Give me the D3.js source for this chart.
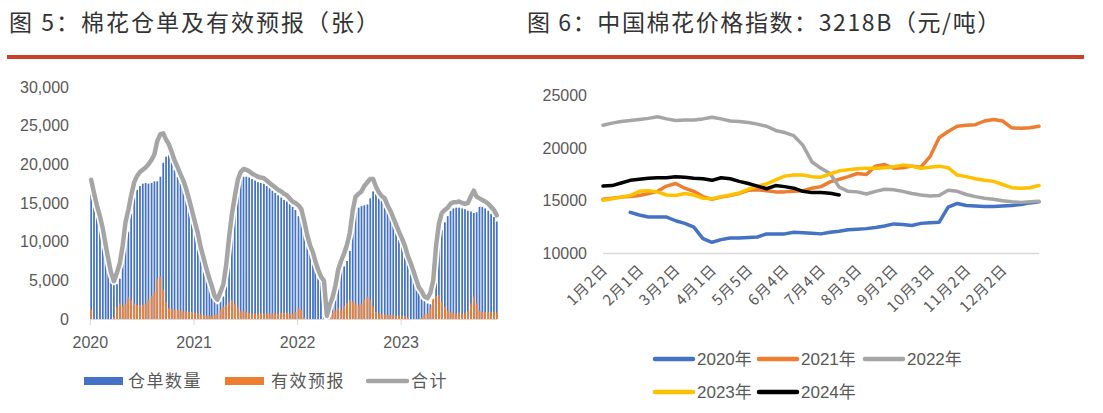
<!DOCTYPE html>
<html><head><meta charset="utf-8">
<script src="https://cdn.jsdelivr.net/npm/d3@7/dist/d3.min.js"></script>
<style>
body{margin:0;background:#fff}
svg text{font-family:"Liberation Sans",Arial,"Noto Sans CJK SC",sans-serif;fill:#595959}
.cjk{font-family:"Noto Sans CJK SC",sans-serif}
</style>
</head><body>
<svg id="c" width="1103" height="413"></svg>
<script>
// ---------- Figure 5 data: every ~10 days (1st, 11th, 21st) from 2020-01-01 to 2023-12-01 ----------
const leftYTicks = [0, 5000, 10000, 15000, 20000, 25000, 30000];
const leftYearTicks = ["2020", "2021", "2022", "2023"];
const warehouse = [
 16800,16300,14700,13300,11700,9600,7800,6000,4700,4500,5200,7800,10500,11300,13600,15700,16700,17200,
 17500,17600,17500,17600,17800,17800,18400,20200,21000,21200,20300,19300,18400,17600,16900,15800,14600,13200,
 11700,10400,8700,7300,6000,4800,3900,2500,1900,2300,2900,5200,8300,11100,13800,16500,18000,18400,
 18400,18300,18100,17900,17700,17600,17500,17200,16900,16600,16300,16000,15700,15400,15200,14900,14500,14100,
 13300,13000,12500,10800,9500,8600,7500,6400,5500,4900,400,1200,2000,3200,5000,6400,6800,7500,
 8800,11700,13800,14400,14600,14700,14800,15600,16500,16200,15700,15300,15000,14200,13500,12600,11800,10900,
 10000,9100,8000,7200,6100,5000,4100,3400,2300,2000,1900,2400,6500,9200,11500,12500,13300,14000,
 14300,14400,14400,14300,14200,14000,13900,13700,13800,14500,14500,14300,14000,13600,13200,12600
];
const forecast = [
 1200,0,0,0,0,0,0,0,200,1500,2000,1700,2000,2800,2400,2000,1800,1800,
 1800,2000,2500,3000,3500,5200,5500,3800,2200,1400,1300,1200,1200,1100,1000,1000,900,900,
 800,700,600,500,400,400,400,500,600,1200,1600,1800,2200,2400,2000,1500,1000,1000,
 900,800,700,700,700,700,700,700,700,700,700,700,800,800,800,700,700,900,
 1400,1200,200,0,0,0,0,0,0,0,0,600,800,1100,1400,1200,1700,2100,
 2400,2300,2000,1800,1900,2500,2900,2500,1600,900,700,600,600,500,500,500,400,400,
 400,400,200,0,0,0,0,200,600,700,1500,2600,3000,3100,2200,1600,1100,900,
 800,700,800,700,700,1000,2000,2900,2000,1100,900,900,900,900,900,800
];

// ---------- Figure 6 data: trading-day index, one value every 5 trading days ----------
const rightYTicks = [10000, 15000, 20000, 25000];
const monthLabels = ["1月2日","2月1日","3月2日","4月1日","5月5日","6月4日","7月4日","8月3日","9月2日","10月3日","11月2日","12月2日"];
const s2020 = [null,null,null,13900,13650,13450,13450,13450,13100,12850,12500,11400,11050,11300,11450,11450,11500,11550,11850,11850,11850,12000,11950,11900,11850,12000,12100,12250,12300,12350,12450,12600,12800,12750,12650,12850,12900,12950,14400,14750,14550,14500,14450,14450,14500,14550,14650,14800,14900];
const s2021 = [15150,15250,15350,15400,15500,15700,15900,16400,16650,16200,15900,15400,15150,15350,15500,15700,16000,16050,15950,15850,15850,15900,15950,16200,16350,16800,17050,17300,17600,17500,18300,18450,18100,18150,18300,18200,19200,21000,21600,22100,22200,22250,22600,22750,22600,21950,21900,21950,22100];
const s2022 = [22200,22400,22550,22650,22750,22850,23000,22800,22650,22700,22700,22800,22950,22800,22600,22550,22450,22300,22100,21700,21500,21200,20300,18700,18100,17600,16300,15900,15850,15650,15900,16100,16050,15900,15700,15550,15450,15500,16000,15900,15600,15400,15250,15150,15000,14900,14850,14900,14950];
const s2023 = [15050,15200,15350,15500,15900,15950,15850,15550,15500,15700,15550,15250,15200,15400,15550,15750,16100,16400,16600,17000,17350,17450,17450,17300,17250,17550,17850,17950,18050,18100,18100,18150,18250,18400,18300,18100,18200,18300,18150,17450,17300,17100,16950,16850,16550,16250,16200,16250,16450];
const s2024 = [16400,16450,16700,16950,17050,17150,17200,17200,17300,17250,17150,17100,16950,17200,17100,16850,16650,16400,16150,16450,16350,16200,15900,15780,15780,15720,15550];
const seriesNames = ["2020年","2021年","2022年","2023年","2024年"];
const seriesColors = ["#4472C4","#ED7D31","#A5A5A5","#FFC000","#000000"];

const svg = d3.select("#c");

// ---------- Titles and rule ----------
svg.append("text").attr("class","cjk").attr("x",9).attr("y",31)
  .style("font-size","23px").style("letter-spacing","2px").style("fill","#333333")
  .text("图 5：棉花仓单及有效预报（张）");
svg.append("text").attr("class","cjk").attr("x",527).attr("y",31)
  .style("font-size","23px").style("letter-spacing","1.6px").style("fill","#333333")
  .text("图 6：中国棉花价格指数：3218B（元/吨）");
svg.append("rect").attr("x",7).attr("y",55).attr("width",1077).attr("height",4).attr("fill","#CC4125");

// ---------- Left chart ----------
const dates = [];
for (let y = 2020; y <= 2023; y++) for (let m = 0; m < 12; m++) for (const d of [1, 11, 21]) dates.push(new Date(y, m, d));
dates.length = warehouse.length;
const rows = dates.map((d, i) => ({date: d, w: warehouse[i], f: forecast[i], t: warehouse[i] + forecast[i]}));

const xL = d3.scaleTime().domain([new Date(2020,0,1), new Date(2024,0,1)]).range([90.3, 504.7]);
const yL = d3.scaleLinear().domain([0, 30000]).range([319, 87]);
const bw = 1.75;

const gL = svg.append("g");
gL.selectAll(".yl").data(leftYTicks).join("text")
  .attr("x", 69).attr("y", d => yL(d)).attr("dy","0.35em").attr("text-anchor","end")
  .style("font-size","16px").text(d => d3.format(",")(d));

gL.append("g").selectAll("rect").data(rows).join("rect")
  .attr("x", d => xL(d.date)).attr("width", bw)
  .attr("y", d => yL(d.w)).attr("height", d => yL(0) - yL(d.w)).attr("fill", "#4472C4");
gL.append("g").selectAll("rect").data(rows).join("rect")
  .attr("x", d => xL(d.date)).attr("width", bw)
  .attr("y", d => yL(d.f)).attr("height", d => yL(0) - yL(d.f)).attr("fill", "#ED7D31");

gL.append("line").attr("x1", 90).attr("x2", 497).attr("y1", 319.5).attr("y2", 319.5).attr("stroke", "#D9D9D9").attr("stroke-width", 1);
const yearDates = leftYearTicks.map(s => new Date(+s, 0, 1));
gL.selectAll(".tk").data(yearDates).join("line")
  .attr("x1", d => xL(d)).attr("x2", d => xL(d)).attr("y1", 319).attr("y2", 325).attr("stroke", "#D9D9D9");
gL.selectAll(".xl").data(leftYearTicks).join("text")
  .attr("x", (d, i) => xL(yearDates[i])).attr("y", 342).attr("dy","0.35em").attr("text-anchor","middle")
  .style("font-size","16px").text(d => d);

const lineL = d3.line().x(d => xL(d.date) + bw / 2).y(d => yL(d.t));
gL.append("path").datum(rows).attr("d", lineL).attr("fill","none").attr("stroke","#fff").attr("stroke-width",8).attr("stroke-linejoin","round");
gL.append("path").datum(rows).attr("d", lineL).attr("fill","none").attr("stroke","#A5A5A5").attr("stroke-width",4.5).attr("stroke-linejoin","round").attr("stroke-linecap","round");

// left legend
const legL = [
  {name:"仓单数量", color:"#4472C4", type:"rect", x:84, tx:128},
  {name:"有效预报", color:"#ED7D31", type:"rect", x:225, tx:271},
  {name:"合计", color:"#A5A5A5", type:"line", x:366, tx:411}
];
legL.forEach(l => {
  if (l.type === "rect") svg.append("rect").attr("x", l.x).attr("y", 377).attr("width", 39).attr("height", 8).attr("fill", l.color);
  else svg.append("line").attr("x1", l.x + 2).attr("x2", l.x + 41).attr("y1", 381).attr("y2", 381).attr("stroke", l.color).attr("stroke-width", 4.5).attr("stroke-linecap","round");
  svg.append("text").attr("class","cjk").attr("x", l.tx).attr("y", 381).attr("dy","0.35em")
    .style("font-size","17px").style("letter-spacing","1.5px").text(l.name);
});

// ---------- Right chart ----------
const xR = d3.scaleLinear().domain([0, 240]).range([603, 1039]);
const yR = d3.scaleLinear().domain([10000, 25000]).range([253.3, 95.8]);
const gR = svg.append("g");
gR.selectAll(".yr").data(rightYTicks).join("text")
  .attr("x", 587).attr("y", d => yR(d)).attr("dy","0.35em").attr("text-anchor","end")
  .style("font-size","16px").text(d => d);
gR.append("line").attr("x1", 603).attr("x2", 1039).attr("y1", 253.5).attr("y2", 253.5).attr("stroke", "#D9D9D9").attr("stroke-width", 1.5);

gR.selectAll(".xr").data(monthLabels).join("text")
  .attr("class","cjk")
  .attr("transform", (d, i) => `translate(${xR(i * 20) + 2},${267}) rotate(-45)`)
  .attr("text-anchor","end").attr("dy","0.35em")
  .style("font-size","15px").style("letter-spacing","1px").text(d => d);

const allSeries = [s2020, s2021, s2022, s2023, s2024];
const lineR = d3.line().defined(d => d != null).x((d, i) => xR(i * 5)).y(d => yR(d));
allSeries.forEach((s, k) => {
  gR.append("path").datum(s).attr("d", lineR).attr("fill","none")
    .attr("stroke", seriesColors[k]).attr("stroke-width", 3.5).attr("stroke-linejoin","round").attr("stroke-linecap","round");
});

// right legend
const legPos = [[653,359],[757,359],[863,359],[653,392],[757,392]];
seriesNames.forEach((n, k) => {
  const [lx, ly] = legPos[k];
  svg.append("line").attr("x1", lx + 2).attr("x2", lx + 40).attr("y1", ly).attr("y2", ly)
    .attr("stroke", seriesColors[k]).attr("stroke-width", 4.5).attr("stroke-linecap","round");
  svg.append("text").attr("x", lx + 44).attr("y", ly).attr("dy","0.35em").style("font-size","17px").text(n);
});
</script>
</body></html>
